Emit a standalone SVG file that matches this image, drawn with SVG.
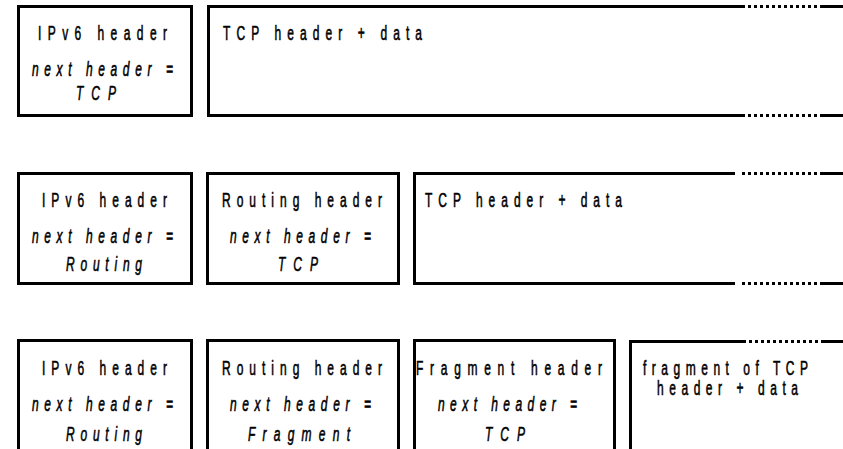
<svg xmlns="http://www.w3.org/2000/svg" width="843" height="449" viewBox="0 0 843 449">
<style>
.box{fill:none;stroke:#000;stroke-width:3}
.dot{fill:none;stroke:#000;stroke-width:3;stroke-dasharray:3 3}
text{font-family:"Liberation Sans",Arial,sans-serif;font-size:20px;fill:#000;stroke:#000;stroke-width:0.6}
.i{font-style:italic}
</style>
<rect width="843" height="449" fill="#fff"/>
<g id="r1-ipv6">
<rect class="box" x="18.5" y="6.5" width="173" height="109"/>
<text transform="translate(38,40) scale(0.6,1)" textLength="215" lengthAdjust="spacing">IPv6 header</text>
<text class="i" transform="translate(32,76) scale(0.6,1)" textLength="235" lengthAdjust="spacing">next header =</text>
<text class="i" transform="translate(76,100) scale(0.6,1)" textLength="66.7" lengthAdjust="spacing">TCP</text>
</g>
<g id="r1-tcp">
<path class="box" d="M742,6.5 H208.5 V115.5 H742"/>
<path class="dot" d="M742,6.5 H823 M742,115.5 H823"/>
<path class="box" d="M823,6.5 H843 M823,115.5 H843"/>
<text transform="translate(223,40) scale(0.6,1)" textLength="331.7" lengthAdjust="spacing">TCP header + data</text>
</g>
<g id="r2-ipv6">
<rect class="box" x="18.5" y="173.5" width="173" height="110"/>
<text transform="translate(42,207) scale(0.6,1)" textLength="208.3" lengthAdjust="spacing">IPv6 header</text>
<text class="i" transform="translate(32,243) scale(0.6,1)" textLength="235" lengthAdjust="spacing">next header =</text>
<text class="i" transform="translate(66,271) scale(0.6,1)" textLength="126.7" lengthAdjust="spacing">Routing</text>
</g>
<g id="r2-routing">
<rect class="box" x="207.5" y="173.5" width="191" height="110"/>
<text transform="translate(222,207) scale(0.6,1)" textLength="266.7" lengthAdjust="spacing">Routing header</text>
<text class="i" transform="translate(230,243) scale(0.6,1)" textLength="235" lengthAdjust="spacing">next header =</text>
<text class="i" transform="translate(278,271) scale(0.6,1)" textLength="66.7" lengthAdjust="spacing">TCP</text>
</g>
<g id="r2-tcp">
<path class="box" d="M735,173.5 H414.5 V283.5 H735"/>
<path class="dot" d="M742,173.5 H823 M742,283.5 H823"/>
<path class="box" d="M823,173.5 H843 M823,283.5 H843"/>
<text transform="translate(425,207) scale(0.6,1)" textLength="328.3" lengthAdjust="spacing">TCP header + data</text>
</g>
<g id="r3-ipv6">
<path class="box" d="M18.5,452 V340.5 H191.5 V452"/>
<text transform="translate(42,375) scale(0.6,1)" textLength="208.3" lengthAdjust="spacing">IPv6 header</text>
<text class="i" transform="translate(32,411) scale(0.6,1)" textLength="235" lengthAdjust="spacing">next header =</text>
<text class="i" transform="translate(66,441) scale(0.6,1)" textLength="126.7" lengthAdjust="spacing">Routing</text>
</g>
<g id="r3-routing">
<path class="box" d="M207.5,452 V340.5 H398.5 V452"/>
<text transform="translate(222,375) scale(0.6,1)" textLength="266.7" lengthAdjust="spacing">Routing header</text>
<text class="i" transform="translate(230,411) scale(0.6,1)" textLength="235" lengthAdjust="spacing">next header =</text>
<text class="i" transform="translate(248,441) scale(0.6,1)" textLength="170" lengthAdjust="spacing">Fragment</text>
</g>
<g id="r3-fragment">
<path class="box" d="M414.5,452 V340.5 H614.5 V452"/>
<text transform="translate(416,375) scale(0.6,1)" textLength="310" lengthAdjust="spacing">Fragment header</text>
<text class="i" transform="translate(438,411) scale(0.6,1)" textLength="231.7" lengthAdjust="spacing">next header =</text>
<text class="i" transform="translate(485,441) scale(0.6,1)" textLength="66.7" lengthAdjust="spacing">TCP</text>
</g>
<g id="r3-data">
<path class="box" d="M630.5,452 V341.5 H743"/>
<path class="dot" d="M743,341.5 H823"/>
<path class="box" d="M823,341.5 H843"/>
<text transform="translate(643,375) scale(0.6,1)" textLength="275" lengthAdjust="spacing">fragment of TCP</text>
<text transform="translate(657,395) scale(0.6,1)" textLength="235" lengthAdjust="spacing">header + data</text>
</g>
<g id="connectors"/>
</svg>
